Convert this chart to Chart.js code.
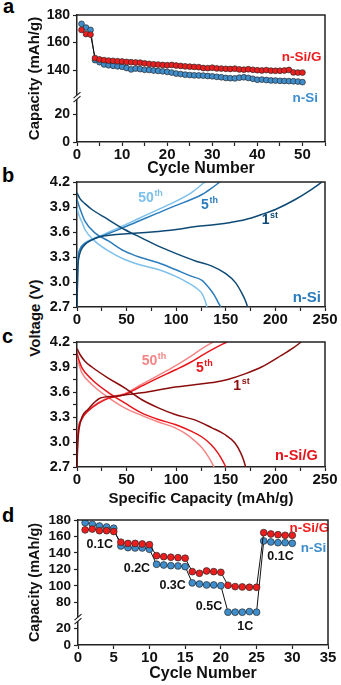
<!DOCTYPE html>
<html>
<head>
<meta charset="utf-8">
<script src="https://cdn.jsdelivr.net/npm/chart.js@4.4.1/dist/chart.umd.min.js"></script>
<style>
  body { margin: 0; background: #fff; width: 341px; height: 685px; position: relative; overflow: hidden;
         font-family: "Liberation Sans", Arial, sans-serif; }
  canvas { position: absolute; left: 0; }
  .letter { position: absolute; font-weight: bold; font-size: 20px; line-height: 20px; color: #000; }
  .vtitle { position: absolute; font-weight: bold; font-size: 15px; line-height: 18px; width: 120px; height: 18px;
            text-align: center; white-space: nowrap; transform: rotate(-90deg); color: #111; }
</style>
</head>
<body>
<div class="letter" style="left:3px;top:-4px">a</div>
<div class="letter" style="left:2px;top:165px">b</div>
<div class="letter" style="left:2px;top:326px">c</div>
<div class="letter" style="left:2px;top:505px">d</div>
<div class="vtitle" style="left:-25px;top:309px">Voltage (V)</div>

<canvas id="chartA" width="341" height="178" style="top:0px"></canvas>
<canvas id="chartB" width="341" height="170" style="top:160px"></canvas>
<canvas id="chartC" width="341" height="178" style="top:330px"></canvas>
<canvas id="chartD" width="341" height="178" style="top:505px"></canvas>

<script>
// ===============================
// DATA - panel a (cycling, 50 cycles)
// ===============================
const cyclesA = [1,2,3,4,5,6,7,8,9,10,11,12,13,14,15,16,17,18,19,20,21,22,23,24,25,
                 26,27,28,29,30,31,32,33,34,35,36,37,38,39,40,41,42,43,44,45,46,47,48,49,50];
const capSiG_A = [169.2,166.2,165.8,148.8,147.8,147.3,147.0,146.8,146.5,146.3,
                  146.0,145.8,145.6,145.5,145.0,144.6,144.3,144.1,143.8,143.6,
                  143.8,143.4,143.1,142.8,142.6,142.4,142.2,141.6,141.5,141.8,
                  141.3,141.2,141.0,140.9,141.1,140.6,140.4,140.7,140.3,140.0,
                  139.8,140.1,139.7,139.6,139.6,139.8,140.2,138.4,138.3,138.3];
const capSi_A = [173.6,170.9,169.2,147.3,145.8,144.2,143.6,143.2,142.8,142.5,
                 141.6,140.6,141.2,140.8,140.3,140.2,139.8,139.5,139.2,138.8,
                 138.3,137.6,137.2,136.8,136.5,136.3,136.2,136.1,135.8,135.6,
                 135.2,134.9,134.4,134.2,134.1,134.6,134.9,134.4,133.8,133.1,
                 133.2,132.9,132.6,132.5,132.3,132.2,132.1,132.0,131.8,131.4];
const yTicksA = [0, 20, 140, 160, 180];
const xTicksA = [0, 5, 10, 15, 20, 25, 30, 35, 40, 45, 50, 55];
const xLabelsA = ['0', '', '10', '', '20', '', '30', '', '40', '', '50', ''];

// ===============================
// DATA - panels b, c (voltage profiles, [capacity, voltage])
// ===============================
const si1Charge = [[0,2.7],[0.5,3.0],[1,3.2],[2,3.3],[4,3.38],[8,3.45],[14,3.5],[22,3.54],[35,3.565],[50,3.58],
                   [75,3.6],[100,3.63],[120,3.665],[140,3.69],[155,3.715],[170,3.75],[186,3.81],[200,3.87],
                   [220,3.99],[235,4.1],[247,4.2]];
const si1Dis = [[0,4.07],[3,4.0],[8,3.94],[15,3.87],[30,3.76],[48,3.63],[65,3.53],[82,3.43],[100,3.34],
                [120,3.25],[136,3.19],[150,3.1],[160,2.99],[166,2.87],[170,2.77],[172,2.7]];
const si5Charge = [[0,2.7],[0.5,3.1],[1,3.27],[3,3.39],[8,3.46],[18,3.52],[25,3.55],[40,3.62],[60,3.72],
                   [80,3.82],[100,3.92],[115,3.99],[126,4.05],[135,4.12],[144,4.2]];
const si5Dis = [[0,3.99],[3,3.88],[8,3.73],[18,3.59],[32,3.49],[48,3.37],[65,3.29],[82,3.23],[99,3.15],
                [115,3.07],[126,3.02],[133,2.93],[139,2.83],[143,2.74],[145,2.7]];
const si50Charge = [[0,2.7],[0.5,3.1],[1,3.27],[3,3.39],[8,3.47],[18,3.53],[25,3.56],[40,3.64],[60,3.75],
                    [80,3.86],[100,3.97],[115,4.07],[129,4.2]];
const si50Dis = [[0,3.89],[2,3.8],[5,3.72],[8,3.63],[18,3.49],[32,3.37],[48,3.27],[65,3.2],[82,3.15],
                 [99,3.07],[112,2.99],[120,2.93],[126,2.86],[129,2.78],[131,2.7]];

const sg1Charge = [[0,2.7],[0.5,2.9],[1,3.03],[2,3.15],[5,3.3],[11,3.39],[18,3.48],[23,3.525],[38,3.55],
                   [65,3.59],[99,3.66],[120,3.69],[140,3.72],[152,3.75],[170,3.82],[186,3.9],[206,4.04],
                   [218,4.13],[226,4.2]];
const sg1Dis = [[0,4.12],[3,4.05],[8,3.97],[15,3.9],[31,3.77],[48,3.65],[65,3.51],[82,3.41],[99,3.33],
                [120,3.26],[136,3.17],[149,3.09],[159,2.99],[165,2.87],[168,2.78],[170,2.7]];
const sg5Charge = [[0,2.7],[0.5,3.0],[1.3,3.14],[4.7,3.27],[11,3.37],[21,3.46],[31,3.52],[48,3.57],[65,3.67],
                   [82,3.77],[100,3.87],[115,3.96],[126,4.04],[138,4.12],[151,4.2]];
const sg5Dis = [[0,4.07],[2,3.98],[5,3.89],[15,3.75],[32,3.59],[48,3.47],[65,3.35],[82,3.27],[99,3.21],
                [115,3.13],[126,3.06],[135,2.97],[142,2.87],[147,2.77],[150,2.7]];
const sg50Charge = [[0,2.7],[0.5,3.02],[1.3,3.16],[4.7,3.28],[11,3.38],[21,3.47],[31,3.53],[48,3.58],[65,3.69],
                    [82,3.8],[100,3.92],[115,4.03],[126,4.12],[137,4.2]];
const sg50Dis = [[0,4.01],[2,3.93],[5,3.83],[15,3.69],[32,3.53],[48,3.41],[65,3.32],[82,3.24],[99,3.17],
                 [112,3.08],[120,3.0],[126,2.93],[132,2.83],[136,2.75],[138,2.7]];

const voltTicks = [2.7, 2.85, 3.0, 3.15, 3.3, 3.45, 3.6, 3.75, 3.9, 4.05, 4.2];
const voltLabels = ['2.7', '', '3.0', '', '3.3', '', '3.6', '', '3.9', '', '4.2'];
const capTicks = [0, 25, 50, 75, 100, 125, 150, 175, 200, 225, 250];
const capLabels = ['0', '', '50', '', '100', '', '150', '', '200', '', '250'];

// ===============================
// DATA - panel d (rate capability)
// ===============================
const cyclesD = [1,2,3,4,5,6,7,8,9,10,11,12,13,14,15,16,17,18,19,20,21,22,23,24,25,26,27,28,29,30];
const capSiG_D = [168,169,167,167,166, 153,151.5,151.5,150.8,150, 136.6,135.4,134.7,134.2,133.5,
                  117.2,115.2,118,117.2,116.4, 100.6,99,98.6,98.2,98.2, 164.6,163,162.1,161.4,161.4];
const capSi_D = [176.8,174.8,172.7,171.5,170, 148.4,146.4,146,146,144.4, 126.2,125.3,124.5,124.1,123.3,
                 103.5,102.2,101,101,100.2, 67.9,67.9,67.9,68.6,67.9, 154.5,153.3,152.4,152.4,151.7];
const yTicksD = [0, 20, 80, 100, 120, 140, 160, 180];
const xTicksD = [0, 5, 10, 15, 20, 25, 30, 35];
const rateNames = ['0.1C', '0.2C', '0.3C', '0.5C', '1C', '0.1C'];

// ===============================
// STYLE
// ===============================
const FONT = '"Liberation Sans", Arial, sans-serif';
const AXIS = '#222';
const RED = '#ee1d1d';
const BLUE = '#3e8ecd';
const SI = ['#0e4a75', '#2b7cbb', '#7dc0ea'];      // 1st, 5th, 50th
const SIG = ['#8a0c0c', '#e8141a', '#f58585'];

Chart.defaults.font.family = FONT;
Chart.defaults.font.weight = 'bold';
Chart.defaults.color = '#111';

// axis broken between the low and high parts
function mapA(v) { return v > 100 ? v - 88 : v; }
function mapD(v) { return v > 30 ? v - 28 : v; }

// ===============================
// PLUGINS
// ===============================
Chart.register({
  id: 'frame',
  afterDraw(chart) {
    const { ctx, chartArea: a } = chart;
    ctx.save();
    ctx.strokeStyle = AXIS;
    ctx.lineWidth = 1.5;
    ctx.beginPath();
    ctx.moveTo(a.left, a.top);
    ctx.lineTo(a.right, a.top);
    ctx.lineTo(a.right, a.bottom);
    ctx.stroke();
    ctx.restore();
  }
});

function notes(items) {
  return {
    id: 'notes',
    afterDatasetsDraw(chart) {
      const { ctx, scales } = chart;
      ctx.save();
      ctx.textAlign = 'left';
      ctx.textBaseline = 'alphabetic';
      items.forEach(it => {
        const px = scales.x.getPixelForValue(it.x);
        const py = scales.y.getPixelForValue(it.y);
        ctx.fillStyle = it.color;
        ctx.font = `bold ${it.size}px ${FONT}`;
        ctx.fillText(it.text, px, py);
        if (it.sup) {
          const w = ctx.measureText(it.text).width;
          ctx.font = `bold ${Math.round(it.size * 0.66)}px ${FONT}`;
          ctx.fillText(it.sup, px + w + 0.5, py - it.size * 0.42);
        }
      });
      ctx.restore();
    }
  };
}

function axisBreak(at) {
  return {
    id: 'axisBreak',
    afterDraw(chart) {
      const { ctx } = chart;
      const x = chart.chartArea.left;
      const y = chart.scales.y.getPixelForValue(at);
      ctx.save();
      ctx.fillStyle = '#fff';
      ctx.fillRect(x - 2, y - 2, 4, 4);
      ctx.strokeStyle = AXIS;
      ctx.lineWidth = 1.2;
      [-2, 2].forEach(d => {
        ctx.beginPath();
        ctx.moveTo(x - 3.5, y + d + 3);
        ctx.lineTo(x + 3.5, y + d - 3);
        ctx.stroke();
      });
      ctx.restore();
    }
  };
}

// ===============================
// SCALE HELPERS
// ===============================
function xScale(min, max, vals, labels, fitH, size, title) {
  return {
    type: 'linear', min: min, max: max,
    afterFit: s => { s.height = fitH; },
    afterBuildTicks: s => { s.ticks = vals.map(v => ({ value: v })); },
    ticks: { callback: (v, i) => labels[i], font: { size: size, weight: 'bold' }, color: '#111',
             padding: 0, maxRotation: 0, autoSkip: false },
    grid: { drawOnChartArea: false, tickLength: 4, tickWidth: 1.2, tickColor: AXIS },
    border: { color: AXIS, width: 1.5 },
    title: title ? { display: true, text: title.text, font: { size: title.size, weight: 'bold' },
                     color: '#111', padding: { top: 0, bottom: 0 } } : { display: false }
  };
}

function yScale(min, max, vals, labels, fitW, size, title) {
  return {
    type: 'linear', min: min, max: max,
    afterFit: s => { s.width = fitW; },
    afterBuildTicks: s => { s.ticks = vals.map(v => ({ value: v })); },
    ticks: { callback: (v, i) => labels[i], font: { size: size, weight: 'bold' }, color: '#111',
             padding: 3, autoSkip: false },
    grid: { drawOnChartArea: false, tickLength: 4, tickWidth: 1.2, tickColor: AXIS },
    border: { color: AXIS, width: 1.5 },
    title: title ? { display: true, text: title.text, font: { size: title.size, weight: 'bold' },
                     color: '#111', padding: { top: title.pad, bottom: 0 } } : { display: false }
  };
}

function baseOptions(padTop, padRight, scales) {
  return {
    responsive: false, devicePixelRatio: 1, animation: false,
    layout: { padding: { top: padTop, right: padRight, left: 0, bottom: 0 } },
    scales: scales,
    plugins: { legend: { display: false }, tooltip: { enabled: false } }
  };
}

function markers(label, xs, ys, map, fill, radius) {
  return {
    label: label,
    data: xs.map((c, i) => ({ x: c, y: map(ys[i]) })),
    borderColor: '#111', borderWidth: 1,
    pointRadius: radius, pointBackgroundColor: fill,
    pointBorderColor: '#2a2a2a', pointBorderWidth: 0.7
  };
}

function curve(pts, color) {
  return {
    data: pts.map(p => ({ x: p[0], y: p[1] })),
    borderColor: color, borderWidth: 1.5, pointRadius: 0,
    cubicInterpolationMode: 'monotone', fill: false
  };
}

// ===============================
// PANEL A
// ===============================
new Chart(document.getElementById('chartA'), {
  type: 'line',
  data: { datasets: [
    markers('n-Si/G', cyclesA, capSiG_A, mapA, RED, 2.9),
    markers('n-Si', cyclesA, capSi_A, mapA, BLUE, 2.9)
  ] },
  options: baseOptions(15, 16, {
    x: xScale(0, 55, xTicksA, xLabelsA, 178 - 142, 15, { text: 'Cycle Number', size: 16 }),
    y: yScale(0, 92, yTicksA.map(mapA), yTicksA.map(String), 77, 14,
              { text: 'Capacity (mAh/g)', size: 15, pad: 26 })
  }),
  plugins: [notes([
    { x: 45.4, y: mapA(147), text: 'n-Si/G', color: RED, size: 13.5 },
    { x: 47.8, y: mapA(117.3), text: 'n-Si', color: BLUE, size: 13.5 }
  ]), axisBreak(32.5)]
});

// ===============================
// PANEL B (n-Si)
// ===============================
new Chart(document.getElementById('chartB'), {
  type: 'line',
  data: { datasets: [
    curve(si1Charge, SI[0]), curve(si1Dis, SI[0]),
    curve(si5Charge, SI[1]), curve(si5Dis, SI[1]),
    curve(si50Charge, SI[2]), curve(si50Dis, SI[2])
  ] },
  options: baseOptions(22, 16, {
    x: xScale(0, 250, capTicks, capLabels, 170 - 147, 15, null),
    y: yScale(2.7, 4.2, voltTicks, voltLabels, 77, 14.5, null)
  }),
  plugins: [notes([
    { x: 61.8, y: 3.964, text: '50', sup: 'th', color: SI[2], size: 14 },
    { x: 125.1, y: 3.872, text: '5', sup: 'th', color: SI[1], size: 14 },
    { x: 186.2, y: 3.692, text: '1', sup: 'st', color: SI[0], size: 14 },
    { x: 217.4, y: 2.764, text: 'n-Si', color: SI[1], size: 15 }
  ])]
});

// ===============================
// PANEL C (n-Si/G)
// ===============================
new Chart(document.getElementById('chartC'), {
  type: 'line',
  data: { datasets: [
    curve(sg1Charge, SIG[0]), curve(sg1Dis, SIG[0]),
    curve(sg5Charge, SIG[1]), curve(sg5Dis, SIG[1]),
    curve(sg50Charge, SIG[2]), curve(sg50Dis, SIG[2])
  ] },
  options: baseOptions(12, 16, {
    x: xScale(0, 250, capTicks, capLabels, 178 - 137, 15, { text: 'Specific Capacity (mAh/g)', size: 15 }),
    y: yScale(2.7, 4.2, voltTicks, voltLabels, 77, 14.5, null)
  }),
  plugins: [notes([
    { x: 65.2, y: 3.924, text: '50', sup: 'th', color: SIG[2], size: 14 },
    { x: 120, y: 3.84, text: '5', sup: 'th', color: SIG[1], size: 14 },
    { x: 157.6, y: 3.624, text: '1', sup: 'st', color: SIG[0], size: 14 },
    { x: 199.6, y: 2.784, text: 'n-Si/G', color: SIG[1], size: 14.5 }
  ])]
});

// ===============================
// PANEL D (rate capability)
// ===============================
new Chart(document.getElementById('chartD'), {
  type: 'line',
  data: { datasets: [
    markers('n-Si/G', cyclesD, capSiG_D, mapD, RED, 3.4),
    markers('n-Si', cyclesD, capSi_D, mapD, BLUE, 3.4)
  ] },
  options: baseOptions(15, 13, {
    x: xScale(0, 35, xTicksD, xTicksD.map(String), 178 - 140, 15, { text: 'Cycle Number', size: 16 }),
    y: yScale(0, 152, yTicksD.map(mapD), yTicksD.map(String), 78, 13.5,
              { text: 'Capacity (mAh/g)', size: 14.5, pad: 26 })
  }),
  plugins: [notes([
    { x: 29.6, y: mapD(165.3), text: 'n-Si/G', color: RED, size: 13.5 },
    { x: 31.2, y: mapD(141.1), text: 'n-Si', color: BLUE, size: 13.5 },
    { x: 1.2, y: mapD(146.5), text: rateNames[0], color: '#111', size: 12.5 },
    { x: 6.4, y: mapD(116.8), text: rateNames[1], color: '#111', size: 12.5 },
    { x: 11.4, y: mapD(95.9), text: rateNames[2], color: '#111', size: 12.5 },
    { x: 16.5, y: mapD(70.4), text: rateNames[3], color: '#111', size: 12.5 },
    { x: 22.3, y: mapD(46.2), text: rateNames[4], color: '#111', size: 12.5 },
    { x: 26.5, y: mapD(131), text: rateNames[5], color: '#111', size: 12.5 }
  ]), axisBreak(31.5)]
});
</script>
</body>
</html>
